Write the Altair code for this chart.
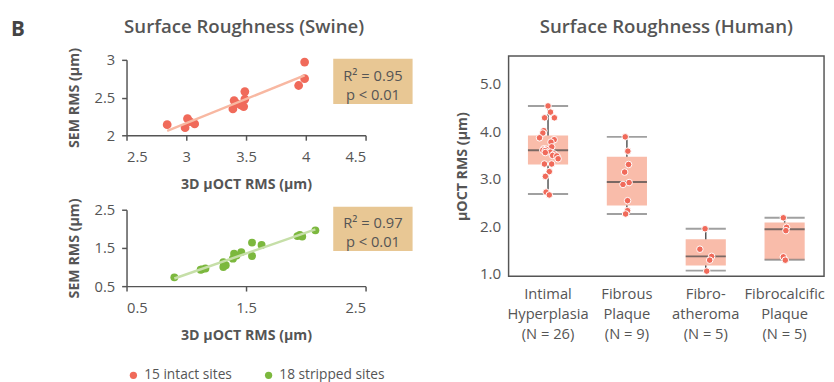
import altair as alt
import pandas as pd

# ---------------- data: swine (SEM vs 3D uOCT) ----------------
intact_oct = [2.84, 2.99, 3.01, 3.03, 3.07, 3.39, 3.40, 3.42, 3.46, 3.48, 3.49, 3.49, 3.94, 3.99, 3.99]
intact_sem = [2.14, 2.10, 2.22, 2.18, 2.15, 2.35, 2.46, 2.42, 2.40, 2.38, 2.48, 2.58, 2.66, 2.75, 2.97]
stripped_oct = [0.90, 1.12, 1.13, 1.16, 1.31, 1.31, 1.33, 1.39, 1.40, 1.42, 1.46, 1.55, 1.55, 1.63, 1.93, 1.95, 1.97, 2.08]
stripped_sem = [0.73, 0.93, 0.94, 0.96, 1.00, 1.13, 1.05, 1.22, 1.35, 1.30, 1.39, 1.64, 1.29, 1.58, 1.81, 1.84, 1.80, 1.96]
site_names = ["15 intact sites", "18 stripped sites"]
r2_labels = ["R\u00b2 = 0.95", "R\u00b2 = 0.97"]
p_labels = ["p < 0.01", "p < 0.01"]

# ---------------- data: human (uOCT RMS by plaque type) ----------------
categories = ["Intimal\nHyperplasia", "Fibrous\nPlaque", "Fibro-\natheroma", "Fibrocalcific\nPlaque"]
n_counts = [26, 9, 5, 5]
box_low = [2.68, 2.26, 1.07, 1.30]
box_q1 = [3.30, 2.44, 1.18, 1.30]
box_med = [3.60, 2.93, 1.37, 1.94]
box_q3 = [3.91, 3.46, 1.73, 2.08]
box_high = [4.53, 3.88, 1.95, 2.18]

ih_vals = [4.53, 4.40, 4.28, 4.28, 4.01, 3.96, 3.86, 3.82, 3.77, 3.67, 3.63, 3.62, 3.60,
           3.59, 3.56, 3.55, 3.52, 3.49, 3.48, 3.42, 3.31, 3.31, 3.15, 3.05, 2.72, 2.66]
ih_jit = [0, 2.5, -3.5, 6.5, -4.3, -5.3, -8.7, 6.3, 3, 3.8, -4.3, -2, -5.3,
          -3, 2.3, -2.8, 6.3, 4.7, 9, 10.3, -3.7, 3.7, 1.3, -2.7, -2, 1.3]
fp_vals = [3.88, 3.58, 3.30, 3.14, 2.92, 2.88, 2.54, 2.33, 2.26]
fp_jit = [-1.7, 1, 1.7, -2.3, 2.3, -4, 0.7, 0.7, -1.3]
fa_vals = [1.95, 1.52, 1.37, 1.29, 1.06]
fa_jit = [-0.7, -6, 6, 4, 1]
fc_vals = [2.18, 1.98, 1.91, 1.36, 1.29]
fc_jit = [-1.3, 2, 1.3, -1.3, 0.7]

# ---------------- styles ----------------
FONT = "Open Sans"
TXT = "#555555"
RED = "#f06a5a"
RED_LINE = "#f8b8a2"
GREEN = "#7cb83e"
GREEN_LINE = "#c6dfa8"
TAN = "#e8c794"
BOX = "#f9bcaa"

labels = [c + "\n(N = " + str(n) + ")" for c, n in zip(categories, n_counts)]


def sc_axis(title, values, pad, **kw):
    return alt.Axis(title=title, values=values, format="~g", grid=False,
                    domainColor="#555555", domainWidth=1.5, tickColor="#555555",
                    tickWidth=1.5, tickSize=5, labelFontSize=15, labelColor=TXT,
                    labelPadding=7, titleFontSize=14.5, titleFontWeight="bold",
                    titleColor=TXT, titlePadding=pad, **kw)


def x_axis(title, values, **kw):
    return alt.Axis(title=title, values=values, format="~g", grid=False,
                    domainColor="#555555", domainWidth=1.5, tickColor="#555555",
                    tickWidth=1.5, tickSize=5, labelFontSize=15, labelColor=TXT,
                    labelPadding=9.5, titleFontSize=14.5, titleFontWeight="bold",
                    titleColor=TXT, titlePadding=14, **kw)


color = alt.Color("site:N", scale=alt.Scale(domain=site_names, range=[RED, GREEN]),
                  legend=alt.Legend(orient="bottom", direction="horizontal", columns=2, title=None,
                                    symbolType="circle", symbolSize=55, symbolStrokeWidth=0,
                                    labelFontSize=14, labelColor=TXT, labelFont=FONT,
                                    columnPadding=30, offset=26))

intact = pd.DataFrame({"oct": intact_oct, "sem": intact_sem, "site": site_names[0]})
stripped = pd.DataFrame({"oct": stripped_oct, "sem": stripped_sem, "site": site_names[1]})

H_LEFT = 235
xA = alt.X("oct:Q", scale=alt.Scale(domain=[2.5, 4.5], nice=False, zero=False),
           axis=x_axis("3D \u03bcOCT RMS (\u03bcm)", [2.5, 3, 3.5, 4, 4.5], orient="bottom", offset=81 - H_LEFT))
yA = alt.Y("sem:Q", scale=alt.Scale(domain=[2, 3], range=[81, 4], nice=False, zero=False),
           axis=sc_axis("SEM RMS (\u03bcm)", [2, 2.5, 3], 13, orient="left"))
xB = alt.X("oct:Q", scale=alt.Scale(domain=[0.5, 2.5], nice=False, zero=False),
           axis=x_axis("3D \u03bcOCT RMS (\u03bcm)", [0.5, 1.5, 2.5], orient="bottom"))
yB = alt.Y("sem:Q", scale=alt.Scale(domain=[0.5, 2.5], range=[235, 157], nice=False, zero=False),
           axis=sc_axis("SEM RMS (\u03bcm)", [0.5, 1.5, 2.5], 13, orient="left"))

annA = pd.DataFrame({"r2": [r2_labels[0]], "p": [p_labels[0]]})
annB = pd.DataFrame({"r2": [r2_labels[1]], "p": [p_labels[1]]})
heads = pd.DataFrame({"panel": ["B"], "title": ["Surface Roughness (Swine)"]})

ann_style = dict(fontSize=15, color=TXT, font=FONT, align="center")

layerA = alt.layer(
    alt.Chart(annA).mark_rect(color=TAN).encode(x=alt.value(211), x2=alt.value(292), y=alt.value(3), y2=alt.value(49)),
    alt.Chart(annA).mark_text(**ann_style).encode(text="r2:N", x=alt.value(251.5), y=alt.value(20.5)),
    alt.Chart(annA).mark_text(**ann_style).encode(text="p:N", x=alt.value(251.5), y=alt.value(39.5)),
    alt.Chart(heads).mark_text(fontSize=21, fontWeight="bold", color="#444444", font=FONT, align="left").encode(text="panel:N", x=alt.value(-118), y=alt.value(-26)),
    alt.Chart(heads).mark_text(fontSize=19, fontWeight=600, color=TXT, font=FONT, align="center").encode(text="title:N", x=alt.value(120), y=alt.value(-29)),
    alt.Chart(intact).mark_circle(size=80, opacity=1).encode(x=xA, y=yA, color=color),
    alt.Chart(intact).transform_regression("oct", "sem").mark_line(color=RED_LINE, strokeWidth=2.5).encode(x=xA, y=yA),
)
layerB = alt.layer(
    alt.Chart(annB).mark_rect(color=TAN).encode(x=alt.value(211), x2=alt.value(292), y=alt.value(154), y2=alt.value(199)),
    alt.Chart(annB).mark_text(**ann_style).encode(text="r2:N", x=alt.value(251.5), y=alt.value(171)),
    alt.Chart(annB).mark_text(**ann_style).encode(text="p:N", x=alt.value(251.5), y=alt.value(190)),
    alt.Chart(stripped).mark_circle(size=65, opacity=1).encode(x=xB, y=yB, color=color),
    alt.Chart(stripped).transform_regression("oct", "sem").mark_line(color=GREEN_LINE, strokeWidth=2.5).encode(x=xB, y=yB),
)
left = alt.layer(layerA, layerB).resolve_scale(x="independent", y="independent").properties(width=244, height=H_LEFT)

# ---------------- right panel ----------------
stats = pd.DataFrame({"cat": labels, "low": box_low, "q1": box_q1, "med": box_med, "q3": box_q3, "high": box_high})
pts = pd.DataFrame({
    "cat": [labels[0]] * len(ih_vals) + [labels[1]] * len(fp_vals) + [labels[2]] * len(fa_vals) + [labels[3]] * len(fc_vals),
    "val": ih_vals + fp_vals + fa_vals + fc_vals,
    "jit": ih_jit + fp_jit + fa_jit + fc_jit,
})
rtitle = pd.DataFrame({"title": ["Surface Roughness (Human)"]})

xcat = alt.X("cat:N", sort=labels, scale=alt.Scale(paddingInner=0, paddingOuter=0),
             axis=alt.Axis(title=None, labelAngle=0, domain=False, ticks=False, labelExpr="split(datum.label, '\\n')",
                           labelFontSize=15, labelLineHeight=20, labelPadding=11, labelColor=TXT, labelOverlap=False,
                           labelLimit=200))
yscale = alt.Scale(domain=[0.95, 5.58], nice=False, zero=False)
yaxis = alt.Axis(title="\u03bcOCT RMS (\u03bcm)", values=[1, 2, 3, 4, 5], format=".1f", domain=False, ticks=False,
                 grid=False, labelFontSize=15.5, labelColor=TXT, labelPadding=8, titleFontSize=14.5,
                 titleFontWeight="bold", titleColor=TXT, titlePadding=10)

right = alt.layer(
    alt.Chart(stats).mark_rule(color="#555555", strokeWidth=1.5).encode(x=xcat, y=alt.Y("low:Q", scale=yscale, axis=yaxis), y2="high:Q"),
    alt.Chart(stats).mark_bar(size=41, color=BOX).encode(x=xcat, y=alt.Y("q1:Q", scale=yscale, axis=yaxis), y2="q3:Q"),
    alt.Chart(stats).mark_tick(orient="horizontal", size=41, thickness=2, color="#777777").encode(x=xcat, y=alt.Y("low:Q", scale=yscale, axis=yaxis)),
    alt.Chart(stats).mark_tick(orient="horizontal", size=41, thickness=2, color="#777777").encode(x=xcat, y=alt.Y("high:Q", scale=yscale, axis=yaxis)),
    alt.Chart(stats).mark_tick(orient="horizontal", size=41, thickness=2, color="#444444").encode(x=xcat, y=alt.Y("med:Q", scale=yscale, axis=yaxis)),
    alt.Chart(pts).mark_circle(size=45, color=RED, stroke="white", strokeWidth=1, opacity=1).encode(
        x=xcat, xOffset=alt.XOffset("jit:Q", scale=alt.Scale(domain=[-40.25, 40.25], range=[0, 80.5])),
        y=alt.Y("val:Q", scale=yscale, axis=yaxis)),
    alt.Chart(rtitle).mark_text(fontSize=19, fontWeight=600, color=TXT, font=FONT, align="center").encode(text="title:N", x=alt.value(161), y=alt.value(-29)),
).properties(width=322, height=225, view=alt.ViewBackground(stroke="#555555", strokeWidth=1.5))

chart = alt.hconcat(left, right, spacing=41).properties(
    padding={"left": 2, "top": 6, "right": 0, "bottom": 0}
).configure(font=FONT).configure_view(stroke="transparent").configure_legend(columnPadding=30)

chart.save("out.html", embed_options={"renderer": "svg", "actions": False})
